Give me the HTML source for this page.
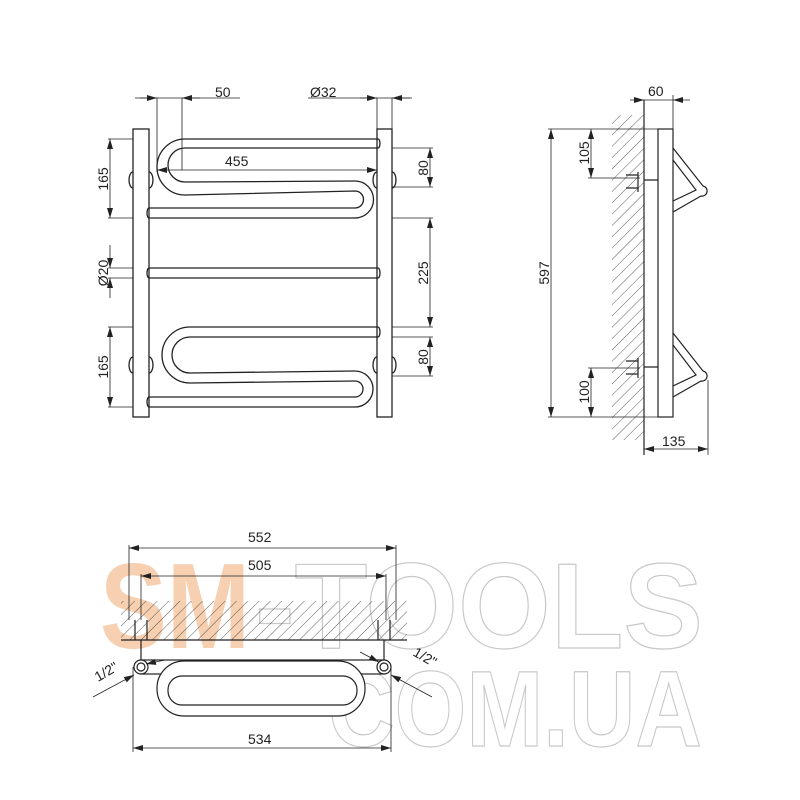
<!DOCTYPE html>
<html><head><meta charset="utf-8"><style>html,body{margin:0;padding:0;background:#fff}svg{display:block}</style></head>
<body>
<svg width="800" height="800" viewBox="0 0 800 800" xmlns="http://www.w3.org/2000/svg" font-family="Liberation Sans, sans-serif">
<defs>
<pattern id="h" patternUnits="userSpaceOnUse" width="8" height="8" patternTransform="rotate(45)">
<line x1="0" y1="0" x2="0" y2="8" stroke="#333" stroke-width="0.8"/></pattern>
<marker id="a" viewBox="0 0 10 6" refX="10" refY="3" markerWidth="10" markerHeight="6" orient="auto-start-reverse" markerUnits="userSpaceOnUse"><path d="M0,0L10,3L0,6z" fill="#222"/></marker>
</defs>
<rect width="800" height="800" fill="#fff"/>
<!-- watermark -->
<g font-family="Liberation Sans, sans-serif" font-weight="bold">
<text x="100" y="648" font-size="122" textLength="150" lengthAdjust="spacingAndGlyphs" fill="#f5c8a3" opacity="0.85">SM</text>
<text x="255" y="648" font-size="122" textLength="448" lengthAdjust="spacingAndGlyphs" fill="none" stroke="#c8c8c8" stroke-width="1.2">-TOOLS</text>
<text x="328" y="746" font-size="108" textLength="374" lengthAdjust="spacingAndGlyphs" fill="none" stroke="#c8c8c8" stroke-width="1.2">COM.UA</text>
</g>
<g fill="none" stroke="#222" stroke-width="1.3">
<rect x="133" y="129" width="16" height="288" fill="#fff"/>
<rect x="377" y="129" width="15" height="288" fill="#fff"/>
<path d="M133,172 a4,8 0 0 0 0,16 M149,172 a4,8 0 0 1 0,16 M377,172 a4,8 0 0 0 0,16 M392,172 a4,8 0 0 1 0,16"/>
<path d="M133,357 a4,8 0 0 0 0,16 M149,357 a4,8 0 0 1 0,16 M377,357 a4,8 0 0 0 0,16 M392,357 a4,8 0 0 1 0,16"/>
<path d="M378,139 H185 A28,28 0 0 0 185,195 L355,191 A8.5,8.5 0 0 1 355,208 H149"/>
<path d="M378,148 H185 A17,17 0 0 0 185,182 L355,181 A18.5,18.5 0 0 1 355,218 H149"/>
<path d="M378,139 a2,4.5 0 0 1 0,9"/>
<path d="M149,208 a2,5 0 0 0 0,10"/>
<path d="M149,268 H378 a2,5 0 0 1 0,10 H149 a2,5 0 0 1 0,-10"/>
<path d="M378,327 H190 A28,28 0 0 0 190,383 L355,381 A8,8 0 0 1 355,397 H149"/>
<path d="M378,337 H190 A18,18 0 0 0 190,373 L355,371 A18,18 0 0 1 355,407 H149"/>
<path d="M378,327 a2,5 0 0 1 0,10"/>
<path d="M149,397 a2,5 0 0 0 0,10"/>
</g>
<g stroke="#222" stroke-width="0.8" fill="none">
<line x1="135" y1="98" x2="240" y2="98"/>
<line x1="140" y1="98" x2="157" y2="98" marker-end="url(#a)"/>
<line x1="200" y1="98" x2="182" y2="98" marker-end="url(#a)"/>
<line x1="157" y1="98" x2="157" y2="172"/>
<line x1="182" y1="98" x2="182" y2="170"/>
<line x1="308" y1="98" x2="412" y2="98"/>
<line x1="360" y1="98" x2="377" y2="98" marker-end="url(#a)"/>
<line x1="410" y1="98" x2="392" y2="98" marker-end="url(#a)"/>
<line x1="377" y1="98" x2="377" y2="129"/>
<line x1="392" y1="98" x2="392" y2="129"/>
<line x1="157" y1="170" x2="377" y2="170" marker-start="url(#a)" marker-end="url(#a)"/>
<line x1="108" y1="139" x2="133" y2="139"/><line x1="108" y1="218" x2="133" y2="218"/>
<line x1="110" y1="139" x2="110" y2="218" marker-start="url(#a)" marker-end="url(#a)"/>
<line x1="108" y1="268" x2="133" y2="268"/><line x1="108" y1="278" x2="133" y2="278"/>
<line x1="110" y1="245" x2="110" y2="268" marker-end="url(#a)"/><line x1="110" y1="298" x2="110" y2="278" marker-end="url(#a)"/>
<line x1="108" y1="327" x2="133" y2="327"/><line x1="108" y1="407" x2="133" y2="407"/>
<line x1="110" y1="327" x2="110" y2="407" marker-start="url(#a)" marker-end="url(#a)"/>
<line x1="392" y1="148" x2="433" y2="148"/><line x1="392" y1="187" x2="433" y2="187"/>
<line x1="430" y1="148" x2="430" y2="187" marker-start="url(#a)" marker-end="url(#a)"/>
<line x1="392" y1="218" x2="433" y2="218"/><line x1="392" y1="327" x2="433" y2="327"/>
<line x1="430" y1="218" x2="430" y2="327" marker-start="url(#a)" marker-end="url(#a)"/>
<line x1="392" y1="337" x2="433" y2="337"/><line x1="392" y1="376" x2="433" y2="376"/>
<line x1="430" y1="337" x2="430" y2="376" marker-start="url(#a)" marker-end="url(#a)"/>
</g>
<g font-size="14" fill="#222">
<text x="215" y="97">50</text>
<text x="310" y="97">Ø32</text>
<text x="225" y="166">455</text>
<text transform="translate(108,179) rotate(-90)" text-anchor="middle">165</text>
<text transform="translate(108,273) rotate(-90)" text-anchor="middle">Ø20</text>
<text transform="translate(108,367) rotate(-90)" text-anchor="middle">165</text>
<text transform="translate(428,168) rotate(-90)" text-anchor="middle">80</text>
<text transform="translate(428,273) rotate(-90)" text-anchor="middle">225</text>
<text transform="translate(428,357) rotate(-90)" text-anchor="middle">80</text>
</g>
<rect x="612" y="115" width="32" height="325" fill="url(#h)"/>
<g stroke="#222" stroke-width="1.2" fill="none">
<line x1="644" y1="100" x2="644" y2="455"/>
<rect x="658" y="129" width="15" height="288" fill="#fff"/>
<path d="M673,148 L703,186 a5,5 0 0 1 -2,10 L673,212"/>
<path d="M673,160 L696,190 L673,201"/>
<path d="M673,333 L703,371 a5,5 0 0 1 -2,10 L673,397"/>
<path d="M673,345 L696,375 L673,386"/>
<path d="M626,175 H638 M626,188 H638 M638,172 V192 M644,180 H658"/>
<path d="M626,361 H638 M626,374 H638 M638,358 V378 M644,367 H658"/>
</g>
<g stroke="#222" stroke-width="0.8" fill="none">
<line x1="673" y1="95" x2="673" y2="129"/>
<line x1="630" y1="100" x2="644" y2="100" marker-end="url(#a)"/><line x1="690" y1="100" x2="673" y2="100" marker-end="url(#a)"/>
<line x1="644" y1="100" x2="673" y2="100"/>
<line x1="548" y1="129" x2="658" y2="129"/><line x1="548" y1="417" x2="658" y2="417"/>
<line x1="551" y1="129" x2="551" y2="417" marker-start="url(#a)" marker-end="url(#a)"/>
<line x1="588" y1="178" x2="640" y2="178"/><line x1="591" y1="129" x2="591" y2="178" marker-start="url(#a)" marker-end="url(#a)"/>
<line x1="588" y1="368" x2="640" y2="368"/><line x1="591" y1="368" x2="591" y2="417" marker-start="url(#a)" marker-end="url(#a)"/>
<line x1="708" y1="380" x2="708" y2="455"/>
<line x1="644" y1="449" x2="708" y2="449" marker-start="url(#a)" marker-end="url(#a)"/>
</g>
<g font-size="14" fill="#222">
<text x="648" y="96">60</text>
<text x="662" y="446">135</text>
<text transform="translate(549,273) rotate(-90)" text-anchor="middle">597</text>
<text transform="translate(589,153) rotate(-90)" text-anchor="middle">105</text>
<text transform="translate(589,392) rotate(-90)" text-anchor="middle">100</text>
</g>
<rect x="121" y="601" width="286" height="39" fill="url(#h)"/>
<g stroke="#222" stroke-width="1.2" fill="none">
<line x1="121" y1="640" x2="407" y2="640"/>
<rect x="141" y="660" width="243" height="14" fill="#fff"/>
<rect x="157" y="661" width="208" height="55" rx="27" fill="#fff"/>
<rect x="168" y="676" width="189" height="29" rx="14"/>
<circle cx="141" cy="667" r="7" fill="#fff"/><circle cx="141" cy="667" r="4"/>
<circle cx="384" cy="667" r="7" fill="#fff"/><circle cx="384" cy="667" r="4"/>
<path d="M135,620 V640 M147,620 V640 M141,640 V660 M378,620 V640 M390,620 V640 M384,640 V660"/>
</g>
<g stroke="#222" stroke-width="0.8" fill="none">
<line x1="129" y1="545" x2="129" y2="620"/><line x1="396" y1="545" x2="396" y2="620"/>
<line x1="129" y1="548" x2="396" y2="548" marker-start="url(#a)" marker-end="url(#a)"/>
<line x1="141" y1="574" x2="141" y2="620"/><line x1="386" y1="574" x2="386" y2="620"/>
<line x1="141" y1="576" x2="386" y2="576" marker-start="url(#a)" marker-end="url(#a)"/>
<line x1="133" y1="667" x2="133" y2="752"/><line x1="391" y1="667" x2="391" y2="752"/>
<line x1="133" y1="748" x2="391" y2="748" marker-start="url(#a)" marker-end="url(#a)"/>
<line x1="93" y1="697" x2="134" y2="675" marker-end="url(#a)"/>
<line x1="432" y1="697" x2="391" y2="675" marker-end="url(#a)"/>
<line x1="165" y1="660" x2="146" y2="664" marker-end="url(#a)"/>
<line x1="360" y1="652" x2="379" y2="662" marker-end="url(#a)"/>
</g>
<g font-size="14" fill="#222">
<text x="248" y="542">552</text>
<text x="248" y="570">505</text>
<text x="248" y="744">534</text>
<text transform="translate(98,682) rotate(-30)">1/2"</text>
<text transform="translate(412,655) rotate(30)">1/2"</text>
</g>
</svg>
</body></html>
